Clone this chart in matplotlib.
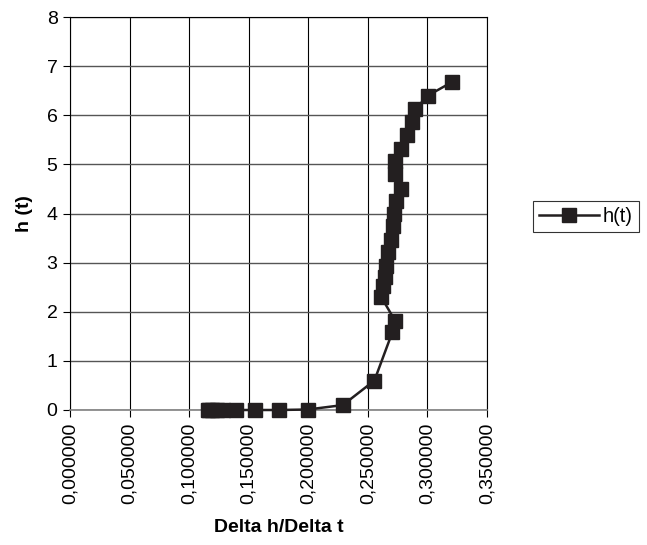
"""
Grafik h(t) terhadap Delta h/Delta t, gaya chart Excel lama.
Output: out.png
"""

import matplotlib
matplotlib.use("Agg")
import matplotlib.pyplot as plt
from matplotlib.ticker import FuncFormatter, MultipleLocator

plt.rcParams["font.family"] = ["Liberation Sans", "DejaVu Sans"]

# data (urut menurut waktu)
delta_h_dt = [0.1155, 0.117, 0.119, 0.123, 0.128, 0.139, 0.155, 0.175, 0.1995,
              0.229, 0.2555, 0.2705, 0.273, 0.261, 0.2625, 0.264, 0.265, 0.267,
              0.2695, 0.271, 0.2723, 0.274, 0.2776, 0.273, 0.273, 0.278, 0.2828,
              0.287, 0.2898, 0.3003, 0.3203]
h_t = [0.0, 0.0, 0.0, 0.0, 0.0, 0.0, 0.0, 0.0, 0.01,
       0.10, 0.60, 1.58, 1.81, 2.31, 2.52, 2.70, 2.94, 3.22,
       3.47, 3.75, 4.00, 4.25, 4.49, 4.81, 5.06, 5.32, 5.59,
       5.87, 6.12, 6.40, 6.67]

WARNA = "#231f20"

fig = plt.figure(figsize=(6.47, 5.45), dpi=100)
ax = fig.add_axes([70 / 647, 1 - 410 / 545, 417 / 647, 393 / 545])

ax.plot(delta_h_dt, h_t, color=WARNA, linewidth=1.8, marker="s",
        markersize=10, markerfacecolor=WARNA, markeredgecolor=WARNA,
        label="h(t)", clip_on=False, zorder=3)

ax.set_xlim(0, 0.35)
ax.set_ylim(0, 8)
ax.xaxis.set_major_locator(MultipleLocator(0.05))
ax.yaxis.set_major_locator(MultipleLocator(1))
ax.xaxis.set_major_formatter(FuncFormatter(lambda v, p: f"{v:.6f}".replace(".", ",")))
ax.yaxis.set_major_formatter(FuncFormatter(lambda v, p: f"{v:.0f}"))

ax.xaxis.grid(True, color="black", linewidth=0.8)
ax.yaxis.grid(True, color="#555555", linewidth=1.0)
ax.set_axisbelow(True)
for s in ["top", "right", "left"]:
    ax.spines[s].set_color("black")
    ax.spines[s].set_linewidth(0.8)
ax.spines["bottom"].set_color("#808080")
ax.spines["bottom"].set_linewidth(1.2)

ax.tick_params(axis="x", rotation=90, labelsize=14, length=5, width=0.8,
               direction="out", pad=4)
ax.tick_params(axis="y", labelsize=14, length=5, width=0.8,
               direction="out", pad=4)

ax.set_xlabel("Delta h/Delta t", fontsize=14, fontweight="bold", labelpad=11)
ax.set_ylabel("h (t)", fontsize=14, fontweight="bold", labelpad=10)

leg = fig.legend(loc="lower left", bbox_to_anchor=(533 / 647, 1 - 232 / 545),
                 fontsize=14.5, frameon=True, fancybox=False, handlelength=3.0,
                 borderpad=0.3, handletextpad=0.15, borderaxespad=0)
leg.get_frame().set_edgecolor("black")
leg.get_frame().set_linewidth(0.8)

fig.savefig("out.png", dpi=100)
plt.close(fig)
